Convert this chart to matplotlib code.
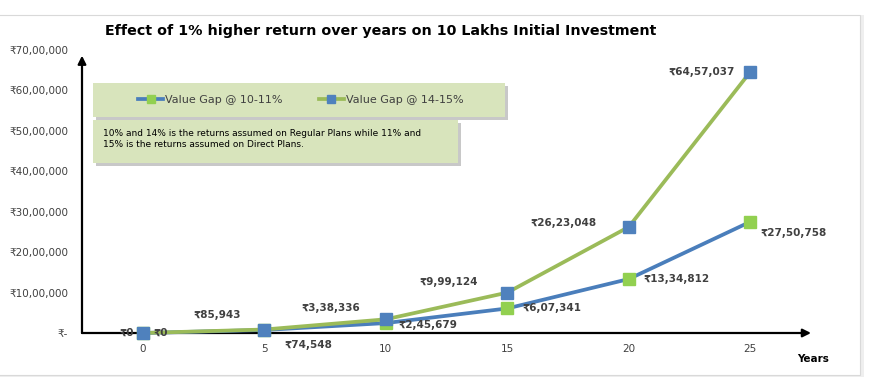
import matplotlib
matplotlib.use("Agg")
import matplotlib.pyplot as plt
from matplotlib.patches import Rectangle

# ---------------- data ----------------
years = [0, 5, 10, 15, 20, 25]
gap_10_11 = [0, 74548, 245679, 607341, 1334812, 2750758]
gap_14_15 = [0, 85943, 338336, 999124, 2623048, 6457037]
series_labels = ["Value Gap @ 10-11%", "Value Gap @ 14-15%"]
y_ticks = [0, 1000000, 2000000, 3000000, 4000000, 5000000, 6000000, 7000000]
title = "Effect of 1% higher return over years on 10 Lakhs Initial Investment"
note = ("10% and 14% is the returns assumed on Regular Plans while 11% and\n"
        "15% is the returns assumed on Direct Plans.")
x_title = "Years"

# ---------------- style ----------------
BLUE = "#4A7EBB"
GREEN = "#9BBB59"
BLUE_MK = "#4F81BD"
GREEN_MK = "#92D050"
TXT = "#404040"
BOX = "#D8E4BC"


def inr(v):
    s = str(int(round(v)))
    if len(s) <= 3:
        return s
    last3, rest = s[-3:], s[:-3]
    groups = []
    while len(rest) > 2:
        groups.insert(0, rest[-2:])
        rest = rest[:-2]
    if rest:
        groups.insert(0, rest)
    return ",".join(groups + [last3])


def rupee(v):
    return "\u20b9" + inr(v)


W, H = 870, 388
fig = plt.figure(figsize=(W / 100, H / 100), dpi=100)
fig.patch.set_facecolor("white")


def fx(px):
    return px / W


def fy(py):
    return 1 - py / H


# outer chart frame with faint shadow
fig.patches.append(Rectangle((fx(-4), fy(377)), fx(868), 362 / H, transform=fig.transFigure,
                             facecolor="#EFEFEF", edgecolor="none", zorder=-2))
fig.patches.append(Rectangle((fx(-6), fy(375)), fx(866), 360 / H, transform=fig.transFigure,
                             facecolor="white", edgecolor="#D9D9D9", lw=0.8, zorder=-1))

ax = fig.add_axes([fx(82), fy(333), fx(811 - 82), (333 - 50) / H])
ax.set_zorder(0.5)
ax.set_facecolor("none")
ax.set_xlim(-2.5, 27.5)
ax.set_ylim(0, 7000000)

l1, = ax.plot(years, gap_10_11, color=BLUE, lw=2.7, marker="s", markersize=8,
              markerfacecolor=GREEN_MK, markeredgecolor=GREEN_MK, label=series_labels[0],
              zorder=3, clip_on=False)
l2, = ax.plot(years, gap_14_15, color=GREEN, lw=2.7, marker="s", markersize=8,
              markerfacecolor=BLUE_MK, markeredgecolor=BLUE_MK, label=series_labels[1],
              zorder=4, clip_on=False)

# data labels (offsets in pixels)
off_14 = [(-9, 0), (-23, 15), (-25, 11), (-29, 11), (-32, 4), (-15, 0)]
off_10 = [(11, 0), (20, -15), (13, -2), (15, 0), (15, 0), (10, -11)]
for x, v, (dx, dy) in zip(years, gap_14_15, off_14):
    ax.annotate(rupee(v), (x, v), xytext=(dx, dy), textcoords="offset pixels",
                ha="right", va="center", fontsize=7.5, fontweight="bold", color=TXT,
                annotation_clip=False, zorder=5)
for x, v, (dx, dy) in zip(years, gap_10_11, off_10):
    ax.annotate(rupee(v), (x, v), xytext=(dx, dy), textcoords="offset pixels",
                ha="left", va="center", fontsize=7.5, fontweight="bold", color=TXT,
                annotation_clip=False, zorder=5)

# axes
for s in ax.spines.values():
    s.set_visible(False)
ax.annotate("", xy=(1, 0), xytext=(0, 0), xycoords="axes fraction",
            arrowprops=dict(arrowstyle="-|>", lw=1.6, color="black", mutation_scale=12,
                            shrinkA=0, shrinkB=0), annotation_clip=False, zorder=2)
ax.annotate("", xy=(0, 0.98), xytext=(0, 0), xycoords="axes fraction",
            arrowprops=dict(arrowstyle="-|>", lw=1.6, color="black", mutation_scale=12,
                            shrinkA=0, shrinkB=0), annotation_clip=False, zorder=2)

ax.set_xticks(years)
ax.set_xticklabels([str(y) for y in years])
ax.set_yticks(y_ticks)
ax.set_yticklabels(["\u20b9-" if v == 0 else rupee(v) for v in y_ticks])
ax.tick_params(axis="both", length=0, labelsize=7.5, labelcolor=TXT)
ax.tick_params(axis="x", pad=8)
ax.tick_params(axis="y", pad=10)

fig.text(fx(813), fy(359), x_title, ha="center", va="center", fontsize=7.5,
         fontweight="bold", color="black")

# title
fig.text(fx(105), fy(31), title, ha="left", va="center", fontsize=10.3,
         fontweight="bold", color="black")


# legend box and note box with shadows
def shadow_box(x0, y0, x1, y1):
    fig.patches.append(Rectangle((fx(x0 + 3), fy(y1 + 3)), fx(x1 - x0), (y1 - y0) / H,
                                 transform=fig.transFigure, facecolor="#C8C8C8",
                                 edgecolor="none", zorder=1))
    fig.patches.append(Rectangle((fx(x0), fy(y1)), fx(x1 - x0), (y1 - y0) / H,
                                 transform=fig.transFigure, facecolor=BOX,
                                 edgecolor="none", zorder=1.1))


shadow_box(93, 83, 505, 117)
shadow_box(93, 120, 458, 163)

leg = fig.legend(handles=[l1, l2], labels=series_labels, loc="center",
                 bbox_to_anchor=(fx(301), fy(100)), ncol=2, frameon=False,
                 fontsize=8, markerscale=0.65, handlelength=2.2, handletextpad=0.2,
                 columnspacing=3.3, labelcolor=TXT)
leg.set_zorder(6)

fig.text(fx(103), fy(139), note, ha="left", va="center", fontsize=6.5,
         color="black", linespacing=1.35, zorder=6)

fig.savefig("out.png", dpi=100, facecolor="white")
